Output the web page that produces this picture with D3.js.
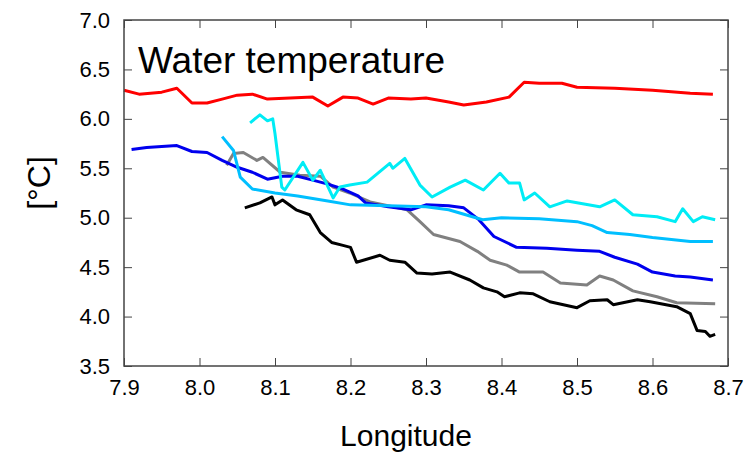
<!DOCTYPE html>
<html><head><meta charset="utf-8">
<script src="https://cdn.jsdelivr.net/npm/d3@7"></script>
<style>body{margin:0;background:#fff}svg{font-family:"Liberation Sans",Arial,sans-serif}</style>
</head><body><svg width="747" height="456"></svg>
<script>
var xTicks = [7.9, 8.0, 8.1, 8.2, 8.3, 8.4, 8.5, 8.6, 8.7];
var yTicks = [3.5, 4.0, 4.5, 5.0, 5.5, 6.0, 6.5, 7.0];

var red = [[7.9,6.29],[7.92,6.25],[7.95,6.27],[7.97,6.31],[7.99,6.16],[8.01,6.16],[8.03,6.2],[8.05,6.24],[8.07,6.25],[8.09,6.2],[8.12,6.21],[8.15,6.22],[8.17,6.13],[8.19,6.22],[8.21,6.21],[8.23,6.15],[8.25,6.21],[8.28,6.2],[8.3,6.21],[8.33,6.17],[8.35,6.14],[8.38,6.17],[8.41,6.22],[8.43,6.37],[8.45,6.36],[8.48,6.36],[8.5,6.32],[8.55,6.31],[8.6,6.29],[8.65,6.26],[8.68,6.25]];
var blue = [[7.91,5.69],[7.93,5.71],[7.95,5.72],[7.97,5.73],[7.99,5.67],[8.01,5.66],[8.03,5.58],[8.05,5.51],[8.07,5.46],[8.09,5.39],[8.11,5.42],[8.13,5.42],[8.15,5.38],[8.17,5.34],[8.19,5.29],[8.21,5.22],[8.22,5.15],[8.25,5.11],[8.28,5.08],[8.3,5.13],[8.33,5.12],[8.35,5.1],[8.37,4.98],[8.39,4.81],[8.42,4.7],[8.46,4.69],[8.5,4.67],[8.53,4.66],[8.55,4.6],[8.58,4.53],[8.6,4.45],[8.63,4.41],[8.65,4.4],[8.68,4.37]];
var lightBlue = [[8.03,5.82],[8.045,5.68],[8.054,5.41],[8.07,5.29],[8.1,5.25],[8.13,5.22],[8.17,5.17],[8.2,5.13],[8.25,5.12],[8.3,5.11],[8.33,5.08],[8.375,4.98],[8.4,5.0],[8.45,4.99],[8.5,4.96],[8.52,4.92],[8.54,4.85],[8.57,4.83],[8.6,4.8],[8.65,4.76],[8.68,4.76]];
var cyan = [[8.067,5.96],[8.08,6.04],[8.09,5.98],[8.097,6.0],[8.1,5.85],[8.109,5.31],[8.113,5.28],[8.137,5.56],[8.15,5.38],[8.16,5.48],[8.177,5.2],[8.186,5.31],[8.199,5.33],[8.222,5.36],[8.252,5.55],[8.256,5.5],[8.272,5.6],[8.292,5.33],[8.308,5.21],[8.332,5.31],[8.352,5.38],[8.376,5.28],[8.398,5.45],[8.41,5.35],[8.424,5.35],[8.43,5.18],[8.444,5.25],[8.464,5.11],[8.487,5.17],[8.53,5.11],[8.55,5.18],[8.574,5.03],[8.606,5.01],[8.63,4.96],[8.64,5.09],[8.654,4.96],[8.666,5.01],[8.683,4.98]];
var gray = [[8.036,5.53],[8.045,5.65],[8.058,5.66],[8.076,5.58],[8.084,5.61],[8.107,5.46],[8.133,5.43],[8.16,5.42],[8.177,5.31],[8.199,5.25],[8.226,5.16],[8.275,5.08],[8.292,4.96],[8.31,4.83],[8.345,4.76],[8.368,4.66],[8.385,4.57],[8.407,4.52],[8.424,4.45],[8.455,4.45],[8.478,4.34],[8.513,4.32],[8.53,4.41],[8.548,4.37],[8.574,4.26],[8.606,4.2],[8.632,4.14],[8.683,4.13]];
var black = [[8.06,5.1],[8.08,5.15],[8.096,5.21],[8.1,5.13],[8.11,5.18],[8.128,5.08],[8.146,5.03],[8.16,4.85],[8.175,4.75],[8.19,4.72],[8.2,4.7],[8.208,4.55],[8.239,4.62],[8.252,4.57],[8.272,4.55],[8.288,4.44],[8.308,4.43],[8.332,4.45],[8.358,4.37],[8.376,4.29],[8.394,4.25],[8.404,4.2],[8.424,4.24],[8.442,4.23],[8.464,4.15],[8.5,4.09],[8.517,4.16],[8.54,4.17],[8.548,4.12],[8.58,4.17],[8.597,4.15],[8.632,4.1],[8.65,4.03],[8.659,3.86],[8.67,3.85],[8.676,3.8],[8.683,3.82]];

var series = [
  {data: gray, color: '#808080'},
  {data: black, color: '#000000'},
  {data: blue, color: '#0000ee'},
  {data: lightBlue, color: '#00bfff'},
  {data: cyan, color: '#00ecf5'},
  {data: red, color: '#ff0000'}
];

var svg = d3.select('svg');
var margin = {top: 20, right: 19, bottom: 90, left: 124};
var innerWidth = 747 - margin.left - margin.right;
var innerHeight = 456 - margin.top - margin.bottom;

var xScale = d3.scaleLinear().domain([7.9, 8.7]).range([0, innerWidth]);
var yScale = d3.scaleLinear().domain([3.5, 7.0]).range([innerHeight, 0]);

var g = svg.append('g').attr('transform', 'translate(' + margin.left + ',' + margin.top + ')');

var line = d3.line().x(function (d) { return xScale(d[0]); }).y(function (d) { return yScale(d[1]); });

series.forEach(function (s) {
  g.append('path').attr('d', line(s.data)).attr('fill', 'none')
    .attr('stroke', s.color).attr('stroke-width', 3).attr('stroke-linejoin', 'round');
});

// axes with inward ticks on all sides
function styleAxis(sel) {
  sel.select('.domain').remove();
  sel.selectAll('.tick line').attr('stroke', '#444');
  sel.selectAll('text').attr('font-size', 22).attr('fill', '#000').attr('font-family', '"Liberation Sans",Arial,sans-serif');
}
g.append('g').attr('transform', 'translate(0,' + innerHeight + ')')
  .call(d3.axisBottom(xScale).tickValues(xTicks).tickFormat(d3.format('.1f')).tickSizeInner(-8).tickPadding(13))
  .call(styleAxis);
g.append('g').call(d3.axisTop(xScale).tickValues(xTicks).tickFormat('').tickSizeInner(-8)).call(styleAxis);
g.append('g')
  .call(d3.axisLeft(yScale).tickValues(yTicks).tickFormat(d3.format('.1f')).tickSizeInner(-8).tickPadding(14))
  .call(styleAxis);
g.append('g').attr('transform', 'translate(' + innerWidth + ',0)')
  .call(d3.axisRight(yScale).tickValues(yTicks).tickFormat('').tickSizeInner(-8)).call(styleAxis);

g.append('rect').attr('width', innerWidth).attr('height', innerHeight)
  .attr('fill', 'none').attr('stroke', '#444').attr('stroke-width', 1.5);

g.append('text').attr('x', 14).attr('y', 53).attr('font-size', 37).text('Water temperature');

svg.append('text').attr('x', margin.left + innerWidth / 2 - 20).attr('y', 446)
  .attr('text-anchor', 'middle').attr('font-size', 30).text('Longitude');
svg.append('text').attr('transform', 'translate(50,' + (margin.top + innerHeight / 2 - 10) + ') rotate(-90)')
  .attr('text-anchor', 'middle').attr('font-size', 32).text('[°C]');
</script></body></html>
